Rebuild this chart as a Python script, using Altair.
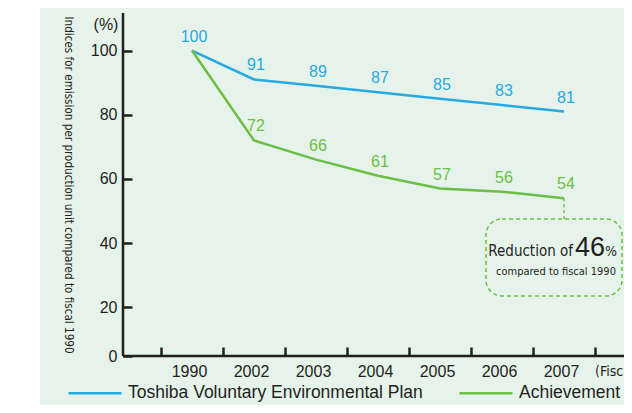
import altair as alt
import pandas as pd

years = ["1990", "2002", "2003", "2004", "2005", "2006", "2007"]
plan_values = [100, 91, 89, 87, 85, 83, 81]
achievement_values = [100, 72, 66, 61, 57, 56, 54]
series_names = ["Toshiba Voluntary Environmental Plan", "Achievement"]
series_colors = ["#27aae1", "#6dbe45"]
y_tick_values = [4.8, 20, 40, 60, 80, 100]

y_title = "Indices for emission per production unit compared to fiscal 1990"
x_unit = "(Fiscal year)"
y_unit = "(%)"
callout_main = "Reduction of"
callout_number = "46"
callout_pct = "%"
callout_sub = "compared to fiscal 1990"
callout_year = "2007"
callout_value = 54

W, H = 501, 343
BG = "#e6f3eb"
INK = "#231f20"
GREEN = series_colors[1]
NARROW = "DejaVu Sans Condensed, sans-serif"
SANS = "Liberation Sans, Arial, Helvetica, sans-serif"

rows = []
for name, vals in zip(series_names, [plan_values, achievement_values]):
    for i, (yr, v) in enumerate(zip(years, vals)):
        # the shared 1990 starting value is labelled once only (in the plan's colour)
        show = not (name == series_names[1] and i == 0)
        rows.append({"year": yr, "value": v, "series": name, "show": show})
df = pd.DataFrame(rows)
one = pd.DataFrame({"k": [0]})

x_scale = alt.Scale(domain=years, range=[38, 472], paddingInner=0, paddingOuter=0)
y_scale = alt.Scale(domain=[4.8, 111.7], nice=False, zero=False)
color_scale = alt.Scale(domain=series_names, range=series_colors)

x_axis = alt.Axis(title=None, domain=False, grid=False, tickBand="extent",
                  tickSize=9, tickWidth=2.5, tickColor=INK, offset=-9,
                  labelPadding=7, labelFont=SANS, labelFontSize=16,
                  labelColor=INK, labelAngle=0, labelOffset=-3)
y_axis = alt.Axis(title=y_title, values=y_tick_values,
                  labelExpr="datum.value < 10 ? '0' : datum.label",
                  domain=False, grid=False, tickSize=9, tickWidth=2.5,
                  tickColor=INK, offset=-9, labelPadding=6, labelFont=SANS,
                  labelFontSize=16, labelColor=INK, titleFont=NARROW,
                  titleFontSize=11.6, titleFontWeight="normal", titleColor=INK,
                  titleAngle=90, titleX=-65, titleY=H / 2, titleAlign="center",
                  titleBaseline="middle")

x_enc = alt.X("year:N", scale=x_scale, sort=years, axis=x_axis)
y_enc = alt.Y("value:Q", scale=y_scale, axis=y_axis)

strip = alt.Chart(one).mark_rect(color="white").encode(
    x=alt.value(-115), x2=alt.value(-83), y=alt.value(-5), y2=alt.value(H + 49))

axis_x_line = alt.Chart(one).mark_rule(color=INK, strokeWidth=2.5).encode(
    x=alt.value(0), x2=alt.value(W), y=alt.value(H))
axis_y_line = alt.Chart(one).mark_rule(color=INK, strokeWidth=2.5).encode(
    x=alt.value(0), y=alt.value(0), y2=alt.value(H))

lines = alt.Chart(df).mark_line(strokeWidth=2.5).encode(
    x=x_enc, y=y_enc,
    color=alt.Color("series:N", scale=color_scale, sort=series_names,
                    legend=alt.Legend(title=None, orient="none", legendX=-56,
                                      legendY=352, direction="horizontal",
                                      symbolType="stroke", symbolSize=2809,
                                      symbolStrokeWidth=2.5, labelFont=SANS,
                                      labelFontSize=17.5, labelColor=INK,
                                      labelLimit=400, columnPadding=31,
                                      labelOffset=5)))

labels = alt.Chart(df).transform_filter("datum.show").mark_text(
    font=SANS, fontSize=16, dy=-14, dx=2, baseline="middle").encode(
    x=x_enc, y=y_enc, text="value:Q",
    color=alt.Color("series:N", scale=color_scale, legend=None))

connector = alt.Chart(pd.DataFrame({"year": [callout_year], "value": [callout_value]})).mark_rule(
    color=GREEN, strokeWidth=1.5, strokeDash=[3, 3]).encode(
    x=x_enc, y=y_enc, y2=alt.value(206))

box = alt.Chart(one).mark_rect(filled=False, stroke=GREEN, strokeWidth=1.5,
                               strokeDash=[4, 3], cornerRadius=16).encode(
    x=alt.value(363), x2=alt.value(499), y=alt.value(206), y2=alt.value(283))

t_main = alt.Chart(one).mark_text(font=NARROW, fontSize=15, color=INK, align="right",
                                  baseline="alphabetic").encode(
    x=alt.value(450), y=alt.value(243), text=alt.value(callout_main))
t_num = alt.Chart(one).mark_text(font=SANS, fontSize=27, color=INK, align="left",
                                 baseline="alphabetic").encode(
    x=alt.value(452), y=alt.value(243), text=alt.value(callout_number))
t_pct = alt.Chart(one).mark_text(font=NARROW, fontSize=14, color=INK, align="left",
                                 baseline="alphabetic").encode(
    x=alt.value(482), y=alt.value(243), text=alt.value(callout_pct))
t_sub = alt.Chart(one).mark_text(font=NARROW, fontSize=11, color=INK, align="center",
                                 baseline="alphabetic").encode(
    x=alt.value(433), y=alt.value(262), text=alt.value(callout_sub))

t_yunit = alt.Chart(one).mark_text(font=SANS, fontSize=16, color=INK, align="center",
                                   baseline="middle").encode(
    x=alt.value(-17), y=alt.value(12), text=alt.value(y_unit))
t_xunit = alt.Chart(one).mark_text(font=NARROW, fontSize=14, color=INK, align="left",
                                   baseline="middle").encode(
    x=alt.value(472), y=alt.value(359), text=alt.value(x_unit))

chart = alt.layer(
    strip, lines, labels, connector, box, t_main, t_num, t_pct, t_sub,
    t_yunit, t_xunit, axis_x_line, axis_y_line,
).resolve_scale(color="shared").properties(
    width=W, height=H,
    padding={"left": 115, "top": 5, "right": 0, "bottom": 49},
    autosize=alt.AutoSizeParams(type="none"),
    background=BG,
).configure_view(strokeWidth=0)

chart.save("out.html", embed_options={"renderer": "svg", "actions": False})
